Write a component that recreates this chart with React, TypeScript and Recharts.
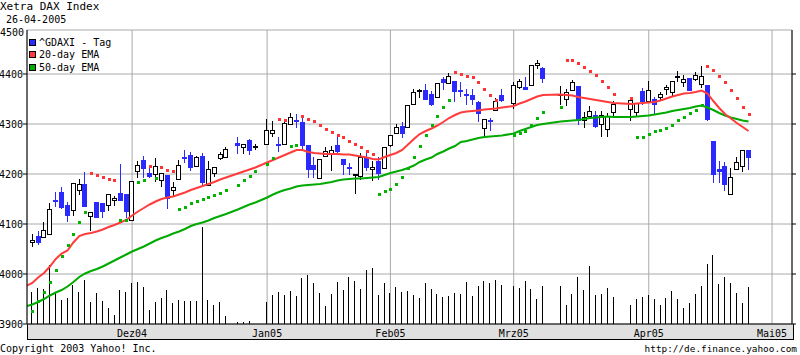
import React from 'react';
import { ComposedChart, Bar, Line, Scatter, XAxis, YAxis, CartesianGrid } from 'recharts';

const _ = null;
const FONT = '"DejaVu Sans Mono", monospace';
const BLUE = '#2a2aff';
const RED = '#ff3c3c';
const GREEN = '#00aa00';

// trading-day slots from early Nov 2004 to 26-04-2005 (null = no quote)
const open = [
  4062, 4076, 4073, 4078, 4149, 4164, 4139, 4127, 4167, 4180,
  4115, 4144, 4141, 4137, 4147, 4161, 4161, 4107, 4205, 4228,
  4203, 4199, 4186, 4199, 4167, 4188, 4234, 4239, 4215, 4236,
  4177, 4201, 4231, 4233, _, 4263, 4253, 4269, 4254, _,
  4259, 4281, 4261, 4259, 4297, 4309, 4304, 4259, 4218, 4191,
  4235, 4239, 4259, 4231, 4213, 4196, 4194, 4235, 4209, 4227,
  4211, 4256, 4281, 4295, 4293, 4339, 4365, 4369, 4359, 4351,
  4389, 4381, 4387, 4366, 4359, 4359, 4344, 4291, 4305, 4326,
  4358, _, 4341, 4371, 4374, 4376, 4417, 4411, _, _,
  4357, 4349, 4365, 4376, 4306, 4314, 4319, 4299, 4289, 4323,
  _, _, 4329, 4323, 4366, 4344, 4351, 4353, 4368, 4363,
  4394, 4383, 4393, 4388, 4379, 4378, 4266, 4211, 4216, 4159,
  4209, 4215, 4248,
];
const high = [
  4080, 4086, 4104, 4143, 4164, 4173, 4144, 4183, 4191, 4204,
  4124, 4144, 4141, 4161, 4157, 4221, 4161, 4186, 4227, 4236,
  4215, 4233, 4202, 4199, 4184, 4229, 4249, 4244, 4237, 4243,
  4227, 4214, 4245, 4254, _, 4275, 4261, 4271, 4261, _,
  4309, 4305, 4275, 4309, 4323, 4321, 4316, 4259, 4234, 4231,
  4254, 4256, 4274, 4231, 4223, 4201, 4243, 4246, 4226, 4235,
  4254, 4279, 4301, 4303, 4338, 4369, 4371, 4381, 4365, 4383,
  4394, 4403, 4387, 4385, 4371, 4371, 4346, 4309, 4311, 4353,
  4371, _, 4384, 4391, 4394, 4417, 4428, 4413, _, _,
  4376, 4369, 4388, 4376, 4324, 4336, 4326, 4326, 4323, 4346,
  _, _, 4349, 4343, 4373, 4387, 4355, 4363, 4379, 4386,
  4407, 4399, 4393, 4405, 4416, 4379, 4266, 4226, 4224, 4213,
  4234, 4249, 4248,
];
const low = [
  4053, 4058, 4073, 4078, 4133, 4131, 4105, 4116, 4159, 4135,
  4086, 4113, 4113, 4127, 4137, 4146, 4113, 4107, 4193, 4193,
  4193, 4185, 4174, 4131, 4157, 4188, 4223, 4207, 4215, 4174,
  4177, 4195, 4229, 4233, _, 4239, 4239, 4238, 4249, _,
  4259, 4275, 4245, 4259, 4297, 4293, 4247, 4193, 4193, 4191,
  4235, 4206, 4241, 4199, 4199, 4161, 4189, 4206, 4186, 4189,
  4211, 4255, 4281, 4273, 4293, 4339, 4353, 4349, 4336, 4351,
  4367, 4381, 4345, 4354, 4339, 4339, 4303, 4276, 4286, 4326,
  4344, _, 4331, 4369, 4367, 4376, 4411, 4383, _, _,
  4339, 4337, 4365, 4299, 4293, 4309, 4293, 4275, 4274, 4313,
  _, _, 4306, 4315, 4339, 4344, 4319, 4349, 4357, 4356,
  4385, 4374, 4365, 4386, 4373, 4306, 4183, 4183, 4166, 4159,
  4209, 4205, 4208,
];
const close = [
  4068, 4063, 4088, 4131, 4143, 4133, 4117, 4183, 4180, 4135,
  4124, 4113, 4124, 4161, 4153, 4146, 4124, 4186, 4218, 4211,
  4195, 4216, 4202, 4151, 4175, 4219, 4231, 4213, 4234, 4183,
  4211, 4214, 4241, 4251, _, 4256, 4261, 4246, 4255, _,
  4289, 4289, 4257, 4301, 4314, 4305, 4256, 4208, 4209, 4231,
  4246, 4249, 4243, 4219, 4211, 4201, 4234, 4213, 4215, 4201,
  4254, 4279, 4295, 4281, 4338, 4363, 4367, 4349, 4338, 4383,
  4381, 4396, 4365, 4364, 4357, 4349, 4321, 4309, 4303, 4346,
  4346, _, 4379, 4387, 4368, 4417, 4423, 4391, _, _,
  4358, 4363, 4384, 4306, 4314, 4326, 4295, 4319, 4316, 4341,
  _, _, 4349, 4343, 4344, 4369, 4338, 4359, 4375, 4385,
  4395, 4391, 4366, 4399, 4397, 4308, 4199, 4205, 4179, 4194,
  4224, 4248, 4233,
];
// relative volume (no scale shown on the chart)
const volume = [
  32, 36, 35, 59, 32, 24, 26, 39, 32, 44,
  22, 31, 23, 16, 9, 34, 32, 41, 42, 37,
  14, 22, 26, 34, 21, 24, 23, 23, 23, 97,
  24, 19, 22, 8, _, 2, 2, 3, _, _,
  22, 29, 32, 29, 33, 28, 46, 49, 41, 31,
  18, 30, 42, 34, 47, 43, 35, 54, 56, 29,
  41, 31, 37, 32, 33, 29, 26, 41, 35, 30,
  27, 28, 31, 30, 42, 28, 38, 43, 41, 44,
  39, _, 38, 36, 43, 35, 25, 38, _, _,
  38, 19, 30, 47, 34, 58, 29, 30, 36, 27,
  _, _, 19, 25, 27, 29, 25, 19, 26, 33,
  25, 16, 21, 30, 38, 60, 69, 40, 47, 41,
  31, 21, 37,
];
const ema20 = [
  3982, 3993, 4002, 4015, 4030, 4041, 4047, 4063, 4076, 4080,
  4082, 4085, 4089, 4094, 4098, 4103, 4108, 4117, 4125, 4132,
  4139, 4145, 4150, 4153, 4155, 4159, 4163, 4168, 4172, 4176,
  4180, 4184, 4189, 4193, _, 4201, 4205, 4209, 4213, _,
  4223, 4228, 4233, 4238, 4243, 4248, 4248, 4244, 4242, 4241,
  4240, 4240, 4240, 4239, 4239, 4237, 4235, 4233, 4230, 4229,
  4234, 4238, 4242, 4248, 4259, 4270, 4280, 4286, 4291, 4297,
  4304, 4312, 4318, 4323, 4325, 4326, 4327, 4329, 4330, 4331,
  4333, _, 4336, 4341, 4345, 4350, 4355, 4358, _, _,
  4359, 4358, 4357, 4354, 4352, 4350, 4348, 4346, 4344, 4342,
  _, _, 4340, 4341, 4342, 4343, 4344, 4347, 4351, 4355,
  4358, 4361, 4362, 4364, 4367, 4361, 4346, 4332, 4320, 4311,
  4302, 4294, 4286,
];
const ema50 = [
  3939, 3944, 3950, 3957, 3963, 3968, 3975, 3984, 3994, 4001,
  4006, 4010, 4015, 4021, 4027, 4033, 4039, 4045, 4050, 4055,
  4061, 4067, 4072, 4076, 4081, 4085, 4090, 4096, 4100, 4103,
  4107, 4112, 4116, 4120, _, 4129, 4134, 4139, 4143, _,
  4153, 4159, 4164, 4168, 4171, 4175, 4177, 4178, 4179, 4180,
  4182, 4184, 4187, 4189, 4190, 4191, 4191, 4192, 4193, 4194,
  4198, 4202, 4205, 4208, 4212, 4217, 4224, 4229, 4233, 4240,
  4245, 4251, 4256, 4264, 4266, 4269, 4272, 4274, 4275, 4276,
  4277, _, 4281, 4286, 4290, 4294, 4298, 4300, _, _,
  4305, 4306, 4307, 4308, 4310, 4312, 4313, 4314, 4315, 4314,
  _, _, 4314, 4315, 4316, 4317, 4319, 4321, 4323, 4326,
  4328, 4330, 4332, 4335, 4337, 4333, 4328, 4322, 4317, 4313,
  4310, 4307, 4305,
];
// where both averages enter at the left edge of the plot
const emaLeftEdge = { i: -0.9, ema20: 3977, ema50: 3936 };

// stop-and-reverse dots above (red) and below (green) the price
const sarAbove = [
  _, _, _, _, _, _, _, _, _, _,
  4203, 4199, 4195, 4191, 4187, _, _, _, _, _,
  4216, _, 4214, 4209, 4206, _, _, _, _, _,
  _, _, _, _, _, _, _, _, _, _,
  _, _, 4309, 4307, _, _, 4316, 4309, 4305, 4297,
  4291, 4285, 4279, 4275, 4267, 4261, 4254, 4247, 4239, _,
  _, _, _, _, _, _, _, _, _, _,
  _, _, 4404, 4401, 4397, 4394, 4385, 4371, 4359, 4349,
  _, _, _, _, _, _, _, _, _, _,
  _, 4427, 4427, 4421, 4414, 4407, 4398, 4387, 4374, 4361,
  _, _, 4351, _, _, _, _, _, _, _,
  _, _, _, _, _, 4416, 4408, 4397, 4385, 4367,
  4351, 4335, 4321,
];
const sarBelow = [
  3927, 3946, 3964, 3985, 4009, 4036, 4058, 4081, 4104, 4125,
  _, _, _, _, _, 4108, 4108, _, 4185, 4187,
  _, 4193, _, _, _, 4131, 4135, 4141, 4146, 4151,
  4155, 4158, 4163, 4169, _, 4179, 4188, 4197, 4207, _,
  4221, 4233, _, _, 4257, 4259, _, _, _, _,
  _, _, _, _, _, _, _, _, _, 4161,
  4166, 4171, 4181, 4194, 4213, 4234, 4257, 4279, 4297, 4316,
  4334, 4349, _, _, _, _, _, _, _, _,
  _, _, 4278, 4283, 4287, 4298, 4311, 4324, _, _,
  4334, _, _, _, _, _, _, _, _, _,
  _, _, _, 4275, 4275, 4281, 4286, 4289, 4293, 4299,
  4307, 4315, 4323, 4329, 4339, _, _, _, _, _,
  _, _, _,
];

const monthTicks = [17, 40, 61, 82, 105, 126];
const monthLabels = ['Dez04', 'Jan05', 'Feb05', 'Mrz05', 'Apr05', 'Mai05'];
const priceTicks = [3900, 4000, 4100, 4200, 4300, 4400];

const data = open.map((o, i) => ({
  i,
  o,
  h: high[i],
  l: low[i],
  c: close[i],
  range: o == null ? null : [low[i], high[i]],
  vol: volume[i],
  ema20: ema20[i],
  ema50: ema50[i],
}));
const lineData = [emaLeftEdge, ...data];
const redDots = sarAbove.map((v, i) => ({ i, v })).filter((d) => d.v != null);
const greenDots = sarBelow.map((v, i) => ({ i, v })).filter((d) => d.v != null);

function Candle(props: any) {
  const { x, y, width, height, payload } = props;
  if (!payload || payload.o == null) return null;
  const top = Math.min(y, y + height);
  const h = Math.abs(height);
  const span = payload.h - payload.l;
  const toY = (v: number) => (span > 0 ? top + ((payload.h - v) / span) * h : top);
  const down = payload.c < payload.o;
  const color = down ? BLUE : '#000';
  const cx = Math.floor(x + width / 2);
  const bt = Math.round(Math.min(toY(payload.o), toY(payload.c)));
  const bb = Math.round(Math.max(toY(payload.o), toY(payload.c)));
  const wick = (
    <line x1={cx + 0.5} x2={cx + 0.5} y1={Math.round(top)} y2={Math.round(top + h)} stroke={color} strokeWidth={1} />
  );
  if (bb - bt < 2) {
    return (
      <g>
        {wick}
        <rect x={cx - 2} y={bt - 1} width={5} height={2} fill={color} />
      </g>
    );
  }
  if (down) {
    return (
      <g>
        {wick}
        <rect x={cx - 2} y={bt} width={5} height={bb - bt} fill={BLUE} />
      </g>
    );
  }
  return (
    <g>
      {wick}
      <rect x={cx - 1.5} y={bt + 0.5} width={4} height={bb - bt - 1} fill="#fff" stroke="#000" strokeWidth={1} />
    </g>
  );
}

function VolBar(props: any) {
  const { x, y, width, height } = props;
  if (height == null || height <= 0) return null;
  return <rect x={Math.floor(x + width / 2)} y={Math.round(y)} width={1} height={Math.round(height)} fill="#000" />;
}

const dot = (color: string) => (p: any) =>
  <rect x={Math.round(p.cx) - 1} y={Math.round(p.cy) - 1} width={3} height={3} fill={color} />;

function MonthTick(props: any) {
  const { x, y, payload } = props;
  const k = monthTicks.indexOf(payload.value);
  return (
    <text x={x} y={y} dy={13} textAnchor="middle" fontFamily={FONT} fontSize={10} fill="#000">
      {monthLabels[k]}
    </text>
  );
}

const txt: React.CSSProperties = { position: 'absolute', fontFamily: FONT, fontSize: 10, color: '#000', whiteSpace: 'pre', lineHeight: '12px' };

export default function App() {
  return (
    <div style={{ position: 'absolute', left: 0, top: 0, width: 800, height: 355, background: '#fff', overflow: 'hidden' }}>
      <div style={{ ...txt, left: 0, top: 1, fontSize: 11 }}>Xetra DAX Index</div>
      <div style={{ ...txt, left: 6, top: 14 }}>26-04-2005</div>
      <div
        style={{
          position: 'absolute', left: 27, top: 324, width: 765, height: 15,
          background: '#e0e0e0', borderLeft: '1px solid #000', borderRight: '1px solid #000', borderBottom: '1px solid #000',
        }}
      />
      <div style={{ ...txt, left: 0, top: 27, width: 23, textAlign: 'right' }}>4500</div>
      <div style={{ ...txt, left: 0, top: 343 }}>Copyright 2003 Yahoo! Inc.</div>
      <div style={{ ...txt, right: 3, top: 343, fontSize: 9.4 }}>http://de.finance.yahoo.com</div>
      <div style={{ position: 'relative' }}>
        <ComposedChart width={800} height={355} data={data} margin={{ top: 30, right: 0, bottom: 0, left: 0 }}>
          <CartesianGrid xAxisId="main" yAxisId="price" stroke="#aaaaaa" />
          <XAxis
            xAxisId="main"
            type="number"
            dataKey="i"
            domain={[-0.9, 129.4]}
            ticks={monthTicks}
            allowDataOverflow
            height={31}
            tickLine={false}
            tickSize={0}
            tickMargin={0}
            axisLine={{ stroke: '#000' }}
            tick={<MonthTick />}
            interval={0}
          />
          <XAxis xAxisId="vol" type="number" dataKey="i" domain={[-0.9, 129.4]} allowDataOverflow hide />
          <YAxis
            yAxisId="price"
            type="number"
            domain={[3900, 4488]}
            ticks={priceTicks}
            allowDataOverflow
            width={27}
            tickSize={4}
            tickMargin={0}
            axisLine={{ stroke: '#000' }}
            tickLine={{ stroke: '#000' }}
            tick={{ fontFamily: FONT, fontSize: 10, fill: '#000' }}
            interval={0}
          />
          <YAxis
            yAxisId="right"
            orientation="right"
            type="number"
            domain={[3900, 4488]}
            ticks={priceTicks}
            allowDataOverflow
            width={8}
            tickSize={4}
            axisLine={{ stroke: '#000' }}
            tickLine={{ stroke: '#000' }}
            tickFormatter={() => ''}
            interval={0}
          />
          <YAxis yAxisId="vol" type="number" domain={[0, 294]} allowDataOverflow hide />
          <Bar xAxisId="vol" yAxisId="vol" dataKey="vol" barSize={1} shape={<VolBar />} isAnimationActive={false} />
          <Line
            xAxisId="main" yAxisId="price" data={lineData} dataKey="ema50" stroke={GREEN} strokeWidth={2}
            dot={false} connectNulls type="linear" isAnimationActive={false}
          />
          <Line
            xAxisId="main" yAxisId="price" data={lineData} dataKey="ema20" stroke={RED} strokeWidth={2}
            dot={false} connectNulls type="linear" isAnimationActive={false}
          />
          <Scatter xAxisId="main" yAxisId="price" data={greenDots} dataKey="v" shape={dot('#00b400')} isAnimationActive={false} />
          <Scatter xAxisId="main" yAxisId="price" data={redDots} dataKey="v" shape={dot('#ff3333')} isAnimationActive={false} />
          <Bar xAxisId="main" yAxisId="price" dataKey="range" barSize={5} shape={<Candle />} isAnimationActive={false} />
        </ComposedChart>
      </div>
      <div style={{ position: 'absolute', left: 29, top: 36 }}>
        {[
          ['^GDAXI - Tag', BLUE],
          ['20-day EMA', RED],
          ['50-day EMA', GREEN],
        ].map(([label, color]) => (
          <div key={label} style={{ display: 'flex', alignItems: 'center', height: 12.5, fontFamily: FONT, fontSize: 10, whiteSpace: 'pre' }}>
            <span style={{ width: 5, height: 5, background: color, border: '1px solid #000', marginRight: 3 }} />
            {label}
          </div>
        ))}
      </div>
    </div>
  );
}
